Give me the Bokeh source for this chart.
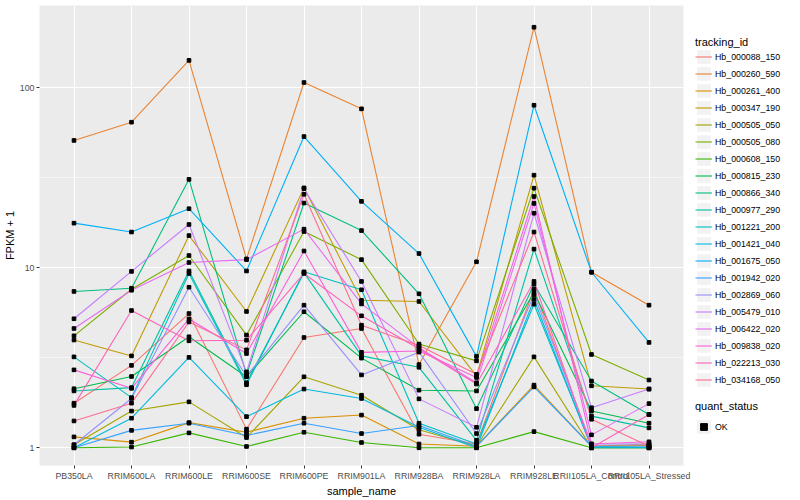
from bokeh.plotting import figure
from bokeh.layouts import row
from bokeh.models import Range1d, FixedTicker, Legend, LegendItem, BasicTickFormatter
from bokeh.embed import file_html
from bokeh.resources import INLINE

samples = ["PB350LA", "RRIM600LA", "RRIM600LE", "RRIM600SE", "RRIM600PE", "RRIM901LA",
           "RRIM928BA", "RRIM928LA", "RRIM928LE", "RRII105LA_Control", "RRII105LA_Stressed"]

hb_000088_150 = [1.77, 2.87, 5.57, 1.27, 4.10, 4.60, 1.19, 1.05, 7.60, 1.02, 1.05]
hb_000260_590 = [51, 64.4, 142, 11.2, 107, 76.4, 2.90, 10.8, 217, 9.45, 6.2]
hb_000261_400 = [1.15, 1.075, 1.38, 1.22, 1.46, 1.52, 1.05, 1.02, 2.23, 1.02, 1.03]
hb_000347_190 = [3.97, 3.24, 15.1, 5.72, 27.8, 6.6, 6.5, 2.5, 32.7, 2.21, 2.12]
hb_000505_050 = [1.04, 1.60, 1.80, 1.14, 2.48, 1.96, 1.26, 1.02, 3.20, 1.0, 1.0]
hb_000505_080 = [4.19, 7.6, 11.7, 4.23, 15.9, 11.1, 3.77, 3.04, 27.7, 3.3, 2.38]
hb_000608_150 = [1.0, 1.01, 1.21, 1.017, 1.22, 1.07, 1.0, 1.0, 1.23, 1.0, 1.0]
hb_000815_230 = [2.13, 2.49, 4.14, 2.48, 5.7, 3.15, 2.09, 2.07, 7.3, 1.6, 1.37]
hb_000866_340 = [7.39, 7.7, 31, 2.55, 22.9, 16.1, 7.17, 1.65, 8.1, 2.35, 1.53]
hb_000977_290 = [2.07, 2.16, 9.6, 2.3, 9.4, 3.24, 2.8, 1.1, 12.7, 1.5, 1.29]
hb_001221_200 = [3.20, 1.9, 9.3, 2.24, 9.5, 7.55, 1.37, 1.05, 6.28, 1.02, 1.0]
hb_001421_040 = [1.0, 1.46, 3.18, 1.49, 2.12, 1.88, 1.30, 1.0, 6.67, 1.0, 1.0]
hb_001675_050 = [17.7, 15.8, 21.3, 9.6, 53.6, 23.4, 12.0, 3.22, 80, 9.45, 3.85]
hb_001942_020 = [1.0, 1.25, 1.37, 1.17, 1.37, 1.2, 1.33, 1.02, 2.18, 1.02, 1.02]
hb_002869_060 = [1.04, 1.88, 7.8, 2.5, 6.2, 2.54, 3.4, 1.2, 7.1, 1.05, 1.05]
hb_005479_010 = [5.21, 9.55, 17.4, 2.64, 27.5, 8.4, 1.87, 1.3, 20.1, 1.67, 2.12]
hb_006422_020 = [4.60, 7.5, 10.7, 11.1, 16.4, 6.3, 3.6, 2.3, 22.8, 1.18, 1.76]
hb_009838_020 = [2.71, 2.14, 5.2, 3.34, 12.4, 3.39, 3.45, 2.46, 24.9, 1.05, 1.08]
hb_022213_030 = [1.72, 5.79, 3.93, 3.96, 9.3, 5.41, 3.55, 2.26, 8.4, 1.0, 1.53]
hb_034168_050 = [1.41, 1.77, 5.0, 3.5, 25.6, 4.8, 3.7, 2.56, 15.8, 1.44, 1.02]

tracking_ids = ["Hb_000088_150", "Hb_000260_590", "Hb_000261_400", "Hb_000347_190",
                "Hb_000505_050", "Hb_000505_080", "Hb_000608_150", "Hb_000815_230",
                "Hb_000866_340", "Hb_000977_290", "Hb_001221_200", "Hb_001421_040",
                "Hb_001675_050", "Hb_001942_020", "Hb_002869_060", "Hb_005479_010",
                "Hb_006422_020", "Hb_009838_020", "Hb_022213_030", "Hb_034168_050"]
series_values = [hb_000088_150, hb_000260_590, hb_000261_400, hb_000347_190,
                 hb_000505_050, hb_000505_080, hb_000608_150, hb_000815_230,
                 hb_000866_340, hb_000977_290, hb_001221_200, hb_001421_040,
                 hb_001675_050, hb_001942_020, hb_002869_060, hb_005479_010,
                 hb_006422_020, hb_009838_020, hb_022213_030, hb_034168_050]
colors = ["#F8766D", "#EA8331", "#D89000", "#C09B00", "#A3A500", "#7CAE00", "#39B600",
          "#00BB4E", "#00BF7D", "#00C1A3", "#00BFC4", "#00BAE0", "#00B0F6", "#35A2FF",
          "#9590FF", "#C77CFF", "#E76BF3", "#FA62DB", "#FF62BC", "#FF6C91"]
quant_status = ["OK"]

FONT = "Liberation Sans"
xpos = list(range(len(samples)))
NAN = float("nan")

p = figure(frame_width=644, frame_height=460, output_backend="svg", toolbar_location=None,
           x_range=Range1d(-0.6, len(samples) - 0.4),
           y_range=Range1d(10 ** -0.0983, 10 ** 2.4572), y_axis_type="log",
           min_border_left=30, min_border_right=8, min_border_top=5, min_border_bottom=0)
p.background_fill_color = "#EBEBEB"
p.border_fill_color = "white"
p.outline_line_color = None

p.xaxis.ticker = FixedTicker(ticks=xpos, minor_ticks=[])
p.xaxis.major_label_overrides = {i: s for i, s in enumerate(samples)}
p.yaxis.ticker = FixedTicker(ticks=[1, 10, 100], minor_ticks=[10 ** 0.5, 10 ** 1.5, 10 ** 2.5])
p.yaxis.formatter = BasicTickFormatter(use_scientific=False)

for ax in (p.xaxis[0], p.yaxis[0]):
    ax.axis_line_color = None
    ax.major_tick_line_color = "#333333"
    ax.major_tick_out = 3
    ax.major_tick_in = 0
    ax.minor_tick_line_color = None
    ax.major_label_text_color = "#4D4D4D"
    ax.major_label_text_font = FONT
    ax.major_label_text_font_size = "8.8px"
    ax.major_label_standoff = 1
    ax.axis_label_text_font = FONT
    ax.axis_label_text_font_size = "11px"
    ax.axis_label_text_font_style = "normal"
    ax.axis_label_text_color = "black"
    ax.axis_label_standoff = 1
p.xaxis.major_label_standoff = 2
p.xaxis.axis_label = "sample_name"
p.yaxis.axis_label = "FPKM + 1"

p.xgrid.grid_line_color = "white"
p.xgrid.grid_line_width = 1.1
p.ygrid.grid_line_color = "white"
p.ygrid.grid_line_width = 1.1
p.ygrid.minor_grid_line_color = "white"
p.ygrid.minor_grid_line_width = 0.55

all_x, all_y = [], []
for vals, col in zip(series_values, colors):
    p.line(x=xpos, y=vals, line_color=col, line_width=1.1)
    all_x.extend(xpos)
    all_y.extend(vals)
p.scatter(x=all_x, y=all_y, marker="square", size=3.6, color="black")

# legend panel: a separate figure whose frame holds the two legends
lg = figure(frame_width=100, frame_height=460, output_backend="svg", toolbar_location=None,
            x_range=Range1d(0, 1), y_range=Range1d(0, 1),
            x_axis_location=None, y_axis_location=None,
            min_border_left=0, min_border_right=0, min_border_top=5, min_border_bottom=0)
lg.outline_line_color = None
lg.grid.visible = False
lg.background_fill_color = "white"
lg.border_fill_color = "white"

bg = lg.quad(left=[NAN], right=[NAN], top=[NAN], bottom=[NAN], fill_color="#F2F2F2", line_color=None)
items = []
for tid, col in zip(tracking_ids, colors):
    r = lg.line(x=[NAN], y=[NAN], line_color=col, line_width=1.1)
    items.append(LegendItem(label=tid, renderers=[bg, r]))
pk = lg.scatter(x=[NAN], y=[NAN], marker="square", size=3.6, color="black")

common = dict(glyph_width=17, glyph_height=17, label_height=17, spacing=0, padding=0, margin=0,
              label_standoff=3, label_text_font=FONT, label_text_font_size="8.8px",
              label_text_color="black", title_text_font=FONT, title_text_font_size="11px",
              title_text_font_style="normal", title_text_color="black",
              border_line_color=None, background_fill_alpha=0)

leg1 = Legend(items=items, title="tracking_id", location=(4, 77), title_standoff=0, **common)
leg2 = Legend(items=[LegendItem(label=q, renderers=[bg, pk]) for q in quant_status],
              title="quant_status", location=(4, 30), title_standoff=6, **common)
lg.add_layout(leg1)
lg.add_layout(leg2)

layout = row(p, lg)
open("out.html", "w").write(file_html(layout, INLINE))
